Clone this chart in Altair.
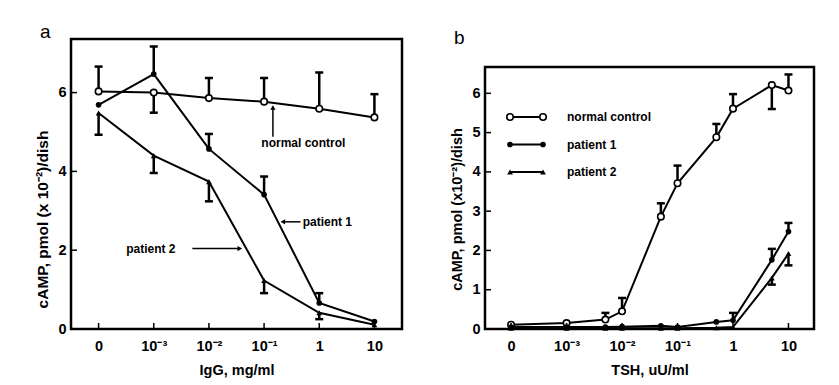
import json
import altair as alt
import pandas as pd

# ---------------- data ----------------
x_tick_values = [0, 1, 2, 3, 4, 5]
x_tick_labels = ["0", "10⁻³", "10⁻²", "10⁻¹", "1", "10"]
series_names = ["normal control", "patient 1", "patient 2"]

# panel a : IgG, mg/ml
a_x = [0, 1, 2, 3, 4, 5]
a_normal = [6.03, 6.00, 5.86, 5.77, 5.59, 5.37]
a_normal_err = [6.66, 5.49, 6.37, 6.37, 6.51, 5.96]
a_p1 = [5.69, 6.47, 4.57, 3.41, 0.66, 0.19]
a_p1_err = [None, 7.17, 4.95, 3.87, 0.91, None]
a_p2 = [5.48, 4.40, 3.74, 1.23, 0.41, 0.11]
a_p2_err = [4.93, 3.96, 3.24, 0.91, 0.25, None]
a_yticks = [0, 2, 4, 6]

# panel b : TSH, uU/ml
b_x = [0, 1, 1.7, 2, 2.7, 3, 3.7, 4, 4.7, 5]
b_normal = [0.11, 0.15, 0.24, 0.45, 2.86, 3.71, 4.88, 5.61, 6.21, 6.07]
b_normal_err = [None, None, 0.41, 0.79, 3.20, 4.16, 5.22, 5.98, 5.60, 6.48]
b_p1 = [0.05, 0.05, 0.05, 0.06, 0.08, 0.05, 0.18, 0.22, 1.76, 2.48]
b_p1_err = [None, None, None, None, None, None, None, 0.41, 2.04, 2.70]
b_p2 = [0.02, 0.02, 0.02, 0.02, 0.02, 0.02, 0.03, 0.05, 1.30, 1.92]
b_p2_err = [None, None, None, None, None, None, None, None, 1.13, 1.62]
b_yticks = [0, 1, 2, 3, 4, 5, 6]

# annotations for panel a (data coordinates)
ann_text = ["normal  control", "patient  1", "patient  2"]
ann_tx = [2.95, 3.70, 0.50]
ann_ty = [4.72, 2.72, 2.04]
arrow_x1 = [3.16, 3.66, 1.70]
arrow_y1 = [4.88, 2.72, 2.04]
arrow_x2 = [3.16, 3.34, 2.56]
arrow_y2 = [5.62, 2.72, 2.04]
arrow_shape = ["triangle-up", "triangle-left", "triangle-right"]

FONT = "Liberation Sans"
label_expr = json.dumps(x_tick_labels, ensure_ascii=False) + "[datum.value]"


def long_df(x, vals, errs):
    rows = []
    for name, v, e in zip(series_names, vals, errs):
        for xi, vi, ei in zip(x, v, e):
            rows.append({"x": xi, "y": vi, "err": ei, "series": name})
    return pd.DataFrame(rows)


def panel(df, xdom, ydom, yticks, w, h, top, xtitle, ytitle, title_y,
          title_size, letter, letter_y, extra_fn=None):
    xscale = alt.Scale(domain=xdom, nice=False, zero=False)
    yscale = alt.Scale(domain=ydom, nice=False, zero=False, range=[h, top])
    xaxis = alt.Axis(values=x_tick_values, labelExpr=label_expr,
                     tickSize=0, domain=False, grid=False,
                     labelPadding=10, titlePadding=11, title=xtitle,
                     labelFlush=False)
    yaxis = alt.Axis(values=yticks, tickSize=0, domain=False,
                     grid=False, labelPadding=5, titlePadding=7,
                     title=ytitle, titleY=title_y, titleFontSize=title_size,
                     format="d")

    def X(f):
        return alt.X(f + ":Q", scale=xscale, axis=xaxis)

    def Y(f):
        return alt.Y(f + ":Q", scale=yscale, axis=yaxis)

    base = alt.Chart(df)
    lines = base.mark_line(color="black", strokeWidth=2).encode(
        x=X("x"), y=Y("y"), detail="series:N")
    errdf = base.transform_filter("isValid(datum.err)")
    bars = errdf.mark_rule(color="black", strokeWidth=2.5).encode(
        x=X("x"), y=Y("y"), y2="err:Q")
    caps = errdf.mark_rule(color="black", strokeWidth=2.5, xOffset=-4,
                           x2Offset=4).encode(
        x=X("x"), x2="x:Q", y=Y("err"))
    pts_n = base.transform_filter(alt.datum.series == "normal control").mark_point(
        shape="circle", filled=True, fill="white", stroke="black",
        strokeWidth=1.6, size=42, opacity=1).encode(x=X("x"), y=Y("y"))
    pts_1 = base.transform_filter(alt.datum.series == "patient 1").mark_point(
        shape="circle", filled=True, color="black", size=32, opacity=1).encode(
        x=X("x"), y=Y("y"))
    pts_2 = base.transform_filter(alt.datum.series == "patient 2").mark_point(
        shape="triangle-up", filled=True, color="black", size=34, opacity=1).encode(
        x=X("x"), y=Y("y"))

    xt = pd.DataFrame({"t": x_tick_values})
    yt = pd.DataFrame({"t": yticks})
    xticks = alt.Chart(xt).mark_rule(color="black", strokeWidth=1.5).encode(
        x=X("t"), y=alt.value(h), y2=alt.value(h - 6))
    yticks_l = alt.Chart(yt).mark_rule(color="black", strokeWidth=1.5).encode(
        y=Y("t"), x=alt.value(0), x2=alt.value(6))

    one = pd.DataFrame({"t": [letter]})
    frame = alt.Chart(one).mark_rect(filled=False, stroke="black",
                                     strokeWidth=2.5).encode(
        x=alt.value(0), x2=alt.value(w), y=alt.value(top), y2=alt.value(h))
    let = alt.Chart(one).mark_text(font=FONT, fontSize=19, align="left",
                                   baseline="alphabetic", color="black").encode(
        x=alt.value(-31), y=alt.value(letter_y), text="t:N")

    layers = [lines, bars, caps, pts_n, pts_1, pts_2, xticks, yticks_l, frame, let]
    if extra_fn:
        layers += extra_fn(X, Y, top)
    return alt.layer(*layers).properties(width=w, height=h)


df_a = long_df(a_x, [a_normal, a_p1, a_p2], [a_normal_err, a_p1_err, a_p2_err])
df_b = long_df(b_x, [b_normal, b_p1, b_p2], [b_normal_err, b_p1_err, b_p2_err])


def annotations_a(X, Y, top):
    ann = pd.DataFrame({"label": ann_text, "tx": ann_tx, "ty": ann_ty,
                        "x1": arrow_x1, "y1": arrow_y1, "x2": arrow_x2,
                        "y2": arrow_y2, "shape": arrow_shape})
    c = alt.Chart(ann)
    txt = c.mark_text(font=FONT, fontSize=12, fontWeight="bold",
                      align="left", baseline="middle").encode(
        x=X("tx"), y=Y("ty"), text="label:N")
    line = c.mark_rule(color="black", strokeWidth=1.5).encode(
        x=X("x1"), y=Y("y1"), x2="x2:Q", y2="y2:Q")
    head = c.mark_point(filled=True, color="black", size=28, opacity=1).encode(
        x=X("x2"), y=Y("y2"),
        shape=alt.Shape("shape:N", scale=None, legend=None))
    return [line, head, txt]


def legend_b(X, Y, top):
    one_row = pd.DataFrame({"k": [0]})
    out = []
    styles = [
        dict(shape="circle", filled=True, fill="white", stroke="black",
             strokeWidth=1.6, size=42),
        dict(shape="circle", filled=True, color="black", size=32),
        dict(shape="triangle-up", filled=True, color="black", size=34),
    ]
    for i, (name, st) in enumerate(zip(series_names, styles)):
        yy = top + 50 + i * 27.5
        out.append(alt.Chart(one_row).mark_rule(color="black", strokeWidth=2).encode(
            x=alt.value(25), x2=alt.value(58), y=alt.value(yy)))
        for xx in (25, 58):
            out.append(alt.Chart(one_row).mark_point(opacity=1, **st).encode(
                x=alt.value(xx), y=alt.value(yy)))
        out.append(alt.Chart(pd.DataFrame({"t": [name.replace(" ", "  ")]})).mark_text(
            font=FONT, fontSize=12, fontWeight="bold", align="left",
            baseline="middle").encode(x=alt.value(82), y=alt.value(yy), text="t:N"))
    return out


panel_a = panel(df_a, [-0.5, 5.5], [0, 7.36], a_yticks, 331, 290, 0,
                "IgG,  mg/ml", "cAMP,  pmol (x 10⁻²)/dish", 180, 15.5, "a", -1,
                extra_fn=annotations_a)
panel_b = panel(df_b, [-0.47, 5.46], [0, 6.67], b_yticks, 329, 290, 28,
                "TSH,  uU/ml", "cAMP,  pmol (x10⁻²)/dish", 170, 14.5, "b", 5,
                extra_fn=legend_b)

chart = alt.hconcat(panel_a, panel_b, spacing=45).properties(
    padding={"left": 27, "top": 15, "right": 5, "bottom": 5},
    background="white",
).configure_view(stroke=None).configure_axis(
    labelFont=FONT, labelFontSize=14.5, labelFontWeight="bold", labelColor="black",
    titleFont=FONT, titleFontSize=14.5, titleFontWeight="bold", titleColor="black",
)

chart.save("out.html", embed_options={"renderer": "svg", "actions": False})
